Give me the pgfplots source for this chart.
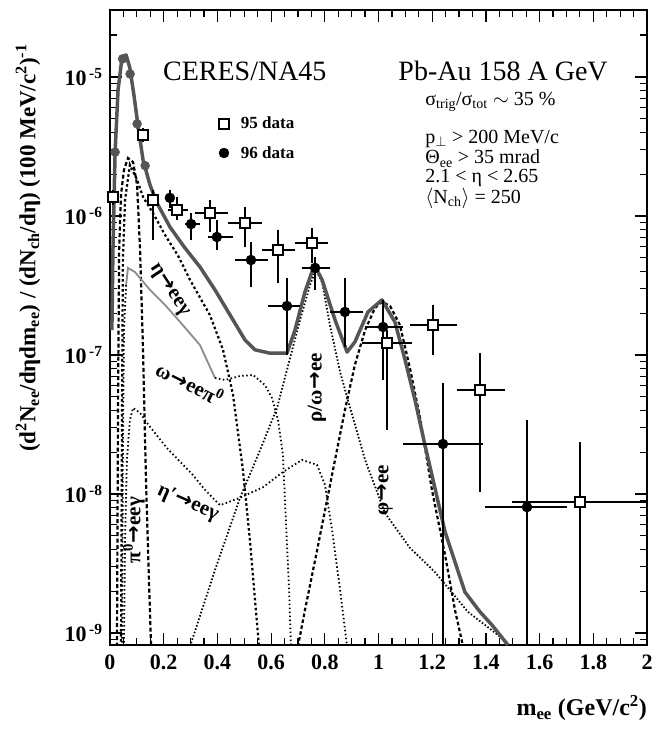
\documentclass[border=0pt]{standalone}
\usepackage{fontspec}
\setmainfont{Liberation Serif}
\newfontfamily\symfont{DejaVu Sans}
\newcommand\arr{{\symfont\bfseries\kern0.5bp→\kern0.5bp}}
\usepackage{pgfplots}
\pgfplotsset{compat=1.18}
\usepackage{pgfplotstable}

\definecolor{totalgray}{RGB}{85,85,85}
\definecolor{lightgray2}{RGB}{140,140,140}

% ---------- measured spectra ----------
% m  value  xlo  xhi  ylo  yhi
\pgfplotstableread{
m v xlo xhi ylo yhi
0.011 1.37e-6 0.004 0.018 1.20e-6 1.55e-6
0.123 3.83e-6 0.115 0.131 3.40e-6 4.30e-6
0.160 1.30e-6 0.140 0.180 6.70e-7 1.54e-6
0.250 1.10e-6 0.215 0.290 9.30e-7 1.37e-6
0.372 1.05e-6 0.317 0.439 7.67e-7 1.30e-6
0.503 8.91e-7 0.439 0.566 5.98e-7 1.16e-6
0.626 5.69e-7 0.566 0.689 3.30e-7 7.93e-7
0.752 6.40e-7 0.689 0.812 4.59e-7 8.20e-7
1.032 1.22e-7 0.939 1.125 2.88e-8 1.51e-7
1.203 1.64e-7 1.117 1.292 1.00e-7 2.29e-7
1.378 5.60e-8 1.292 1.471 1.03e-8 1.03e-7
1.750 8.75e-9 1.497 2.000 1.00e-10 2.37e-8
}\dataNinetyFive

\pgfplotstableread{
m v xlo xhi ylo yhi
0.223 1.35e-6 0.210 0.240 1.15e-6 1.55e-6
0.302 8.75e-7 0.279 0.335 6.70e-7 1.05e-6
0.398 7.06e-7 0.365 0.458 5.69e-7 9.35e-7
0.525 4.82e-7 0.466 0.588 3.08e-7 6.50e-7
0.659 2.25e-7 0.588 0.708 1.00e-7 3.58e-7
0.764 4.23e-7 0.715 0.819 2.94e-7 5.07e-7
0.875 2.04e-7 0.819 0.942 1.14e-7 3.58e-7
1.017 1.59e-7 0.950 1.091 6.60e-8 2.49e-7
1.240 2.29e-8 1.091 1.389 1.00e-10 6.30e-8
1.553 8.05e-9 1.397 1.702 1.00e-10 3.40e-8
}\dataNinetySix

% low-mass 96 points lying on the cocktail
\pgfplotstableread{
m v xlo xhi ylo yhi
0.019 2.88e-6 0.008 0.030 2.60e-6 3.20e-6
0.047 1.35e-5 0.040 0.054 1.25e-5 1.45e-5
0.075 1.05e-5 0.068 0.082 9.80e-6 1.12e-5
0.101 4.60e-6 0.094 0.108 4.20e-6 5.00e-6
0.131 2.30e-6 0.124 0.138 2.10e-6 2.50e-6
}\dataLowMass

% ---------- hadronic cocktail ----------
\pgfplotstableread{
m v
0.007 1.51e-7
0.011 5.69e-7
0.019 2.88e-6
0.030 8.06e-6
0.045 1.39e-5
0.060 1.44e-5
0.074 1.16e-5
0.089 7.43e-6
0.104 4.52e-6
0.123 2.53e-6
0.149 1.67e-6
0.175 1.24e-6
0.223 8.34e-7
0.279 5.89e-7
0.335 4.30e-7
0.391 2.94e-7
0.458 1.79e-7
0.503 1.28e-7
0.540 1.09e-7
0.596 1.03e-7
0.659 1.03e-7
0.689 1.51e-7
0.726 2.84e-7
0.752 3.95e-7
0.767 4.22e-7
0.790 3.47e-7
0.838 1.79e-7
0.883 1.05e-7
0.912 1.24e-7
0.961 2.04e-7
1.013 2.49e-7
1.061 1.73e-7
1.099 9.20e-8
1.136 4.74e-8
1.173 2.25e-8
1.248 5.33e-9
1.322 1.97e-9
1.378 1.42e-9
1.423 1.14e-9
1.482 8.20e-10
}\cocktailTotal

\pgfplotstableread{
m v
0.026 8.0e-10
0.030 4.74e-8
0.034 5.69e-7
0.041 1.42e-6
0.052 2.14e-6
0.067 2.61e-6
0.086 2.44e-6
0.101 1.67e-6
0.112 5.69e-7
0.123 1.09e-7
0.134 1.26e-8
0.145 2.41e-9
0.153 8.0e-10
}\pizero

\pgfplotstableread{
m v
0.041 8.0e-10
0.045 4.70e-8
0.048 4.80e-7
0.056 1.30e-6
0.074 2.33e-6
0.101 1.82e-6
0.123 1.37e-6
0.160 1.05e-6
0.205 7.30e-7
0.253 5.20e-7
0.298 3.47e-7
0.372 1.94e-7
0.421 1.09e-7
0.458 5.20e-8
0.495 1.49e-8
0.521 4.70e-9
0.540 1.73e-9
0.555 8.0e-10
}\etaDalitz

\pgfplotstableread{
m v
0.045 8.0e-10
0.048 2.07e-8
0.052 1.51e-7
0.060 3.19e-7
}\omegaLeft

\pgfplotstableread{
m v
0.060 3.19e-7
0.067 4.23e-7
0.093 3.95e-7
0.149 2.94e-7
0.205 2.29e-7
0.261 1.73e-7
0.335 1.18e-7
0.391 6.84e-8
}\omegaUpper

\pgfplotstableread{
m v
0.391 6.84e-8
0.428 6.61e-8
0.484 7.06e-8
0.533 7.18e-8
0.577 6.08e-8
0.603 4.91e-8
0.626 3.41e-8
0.644 1.91e-8
0.655 6.50e-9
0.667 2.04e-9
0.674 8.0e-10
}\omegaLower

\pgfplotstableread{
m v
0.052 8.0e-10
0.056 4.67e-9
0.063 1.76e-8
0.074 3.40e-8
0.086 4.16e-8
0.112 3.83e-8
0.138 3.24e-8
0.212 2.14e-8
0.309 1.37e-8
0.354 1.07e-8
0.410 8.30e-9
0.484 9.40e-9
0.570 1.12e-8
0.644 1.44e-8
0.715 1.76e-8
0.771 1.62e-8
0.801 1.16e-8
0.827 5.50e-9
0.857 2.04e-9
0.883 8.0e-10
}\etaprime

\pgfplotstableread{
m v
0.298 8.0e-10
0.391 2.84e-9
0.484 9.35e-9
0.559 2.07e-8
0.622 4.16e-8
0.659 7.80e-8
0.708 1.79e-7
0.745 3.19e-7
0.767 4.09e-7
0.790 3.35e-7
0.819 1.64e-7
0.857 7.55e-8
0.886 4.74e-8
0.950 1.76e-8
1.024 7.30e-9
1.117 4.10e-9
1.210 2.75e-9
1.333 1.42e-9
1.460 9.20e-10
1.490 8.0e-10
}\rhoomega

\pgfplotstableread{
m v
0.700 8.0e-10
0.726 1.46e-9
0.764 3.35e-9
0.801 7.67e-9
0.838 1.76e-8
0.875 4.02e-8
0.912 8.48e-8
0.950 1.51e-7
0.987 2.18e-7
1.013 2.41e-7
1.043 2.25e-7
1.080 1.64e-7
1.117 8.05e-8
1.155 3.52e-8
1.199 1.07e-8
1.248 3.64e-9
1.285 1.46e-9
1.315 8.0e-10
}\phimeson

\begin{document}
\begin{tikzpicture}
\begin{axis}[
  at={(0,0)}, anchor=south west,
  scale only axis, width=537bp, height=635bp,
  xmin=0, xmax=2,
  ymode=log, ymin=8.2e-10, ymax=3.03e-5,
  xtick={0,0.2,0.4,0.6,0.8,1,1.2,1.4,1.6,1.8,2},
  xticklabels={0,0.2,0.4,0.6,0.8,1,1.2,1.4,1.6,1.8,2},
  minor x tick num=3,
  ytick={1e-9,1e-8,1e-7,1e-6,1e-5},
  yticklabels={{10\textsuperscript{\,-9}},{10\textsuperscript{\,-8}},{10\textsuperscript{\,-7}},{10\textsuperscript{\,-6}},{10\textsuperscript{\,-5}}},
  minor ytick={9e-10,2e-9,3e-9,4e-9,5e-9,6e-9,7e-9,8e-9,9e-9,2e-8,3e-8,4e-8,5e-8,6e-8,7e-8,8e-8,9e-8,2e-7,3e-7,4e-7,5e-7,6e-7,7e-7,8e-7,9e-7,2e-6,3e-6,4e-6,5e-6,6e-6,7e-6,8e-6,9e-6,2e-5,3e-5},
  tick align=inside,
  major tick length=12bp, minor tick length=7bp,
  every tick/.style={black, line width=1.2bp},
  axis line style={line width=1.8bp, black},
  ticklabel style={font=\bfseries\fontsize{22bp}{22bp}\selectfont},
  xticklabel style={yshift=-6bp},
  yticklabel style={xshift=-4bp},
  xlabel={m\textsubscript{ee} (GeV/c\textsuperscript{2})},
  xlabel style={at={(axis description cs:1,0)}, anchor=north east, yshift=-50bp, inner sep=0pt,
    font=\bfseries\fontsize{24bp}{24bp}\selectfont},
  legend style={at={(axis description cs:0.197,0.838)}, anchor=north west, draw=none, fill=none,
    font=\bfseries\fontsize{17bp}{17bp}\selectfont, row sep=12bp},
  legend cell align=left,
  clip=true,
]

% cocktail components
\addplot[forget plot, black, line width=2.2bp, dash pattern=on 4bp off 2.5bp] table[x=m,y=v] {\pizero};
\addplot[forget plot, black, line width=2.2bp, dash pattern=on 2.5bp off 2.5bp] table[x=m,y=v] {\etaDalitz};
\addplot[forget plot, black, line width=1.8bp, dash pattern=on 1.5bp off 2.5bp] table[x=m,y=v] {\omegaLeft};
\addplot[forget plot, lightgray2, line width=1.8bp] table[x=m,y=v] {\omegaUpper};
\addplot[forget plot, black, line width=1.8bp, dash pattern=on 1.5bp off 2.5bp] table[x=m,y=v] {\omegaLower};
\addplot[forget plot, black, line width=1.8bp, dash pattern=on 1.5bp off 2.5bp] table[x=m,y=v] {\etaprime};
\addplot[forget plot, black, line width=1.8bp, dash pattern=on 1.5bp off 2bp] table[x=m,y=v] {\rhoomega};
\addplot[forget plot, black, line width=2.2bp, dash pattern=on 3.5bp off 2.5bp] table[x=m,y=v] {\phimeson};

% total cocktail
\addplot[forget plot, totalgray, line width=3.5bp, line join=round] table[x=m,y=v] {\cocktailTotal};

% data
\addplot[only marks, mark=square*, mark size=5bp,
  mark options={line width=1.8bp, fill=white, draw=black},
  error bars/.cd, x dir=both, x explicit, y dir=both, y explicit, error mark=none,
  error bar style={line width=2.2bp, black}]
  table[x=m, y=v,
    x error plus expr=\thisrow{xhi}-\thisrow{m}, x error minus expr=\thisrow{m}-\thisrow{xlo},
    y error plus expr=\thisrow{yhi}-\thisrow{v}, y error minus expr=\thisrow{v}-\thisrow{ylo}] {\dataNinetyFive};
\addlegendentry{\hspace{10bp}95 data}

\addplot[only marks, mark=*, mark size=5bp, mark options={black},
  error bars/.cd, x dir=both, x explicit, y dir=both, y explicit, error mark=none,
  error bar style={line width=2.2bp, black}]
  table[x=m, y=v,
    x error plus expr=\thisrow{xhi}-\thisrow{m}, x error minus expr=\thisrow{m}-\thisrow{xlo},
    y error plus expr=\thisrow{yhi}-\thisrow{v}, y error minus expr=\thisrow{v}-\thisrow{ylo}] {\dataNinetySix};
\addlegendentry{\hspace{10bp}96 data}

\addplot[forget plot, only marks, mark=*, mark size=4.5bp, mark options={totalgray},
  error bars/.cd, x dir=both, x explicit, y dir=both, y explicit, error mark=none,
  error bar style={line width=2bp, totalgray}]
  table[x=m, y=v,
    x error plus expr=\thisrow{xhi}-\thisrow{m}, x error minus expr=\thisrow{m}-\thisrow{xlo},
    y error plus expr=\thisrow{yhi}-\thisrow{v}, y error minus expr=\thisrow{v}-\thisrow{ylo}] {\dataLowMass};

% component labels
\begin{scope}[every node/.style={font=\bfseries\fontsize{21bp}{21bp}\selectfont, inner sep=1bp}]
\node[rotate=-57] at (axis cs:0.223,2.94e-7) {η\arr eeγ};
\node[rotate=-27] at (axis cs:0.298,6.3e-8) {ω\arr eeπ\textsuperscript{0}};
\node[rotate=-24] at (axis cs:0.290,8.6e-9) {η′\arr eeγ};
\node[rotate=90] at (axis cs:0.089,5.5e-9) {π\textsuperscript{0}\arr eeγ};
\node[rotate=90] at (axis cs:0.771,5.8e-8) {ρ/ω\arr ee};
\node[rotate=90] at (axis cs:1.024,1.07e-8) {φ\arr ee};
\end{scope}

% headers and cuts
\node[font=\fontsize{28bp}{28bp}\selectfont] at (axis description cs:0.251,0.904) {CERES/NA45};
\node[font=\fontsize{28bp}{28bp}\selectfont] at (axis description cs:0.732,0.904) {Pb-Au 158 A GeV};
\begin{scope}[every node/.style={anchor=west, inner sep=0pt, font=\fontsize{20bp}{20bp}\selectfont}]
\node at (axis description cs:0.587,0.855) {σ\textsubscript{trig}/σ\textsubscript{tot} $\sim$ 35 \%};
\node at (axis description cs:0.587,0.797) {p\textsubscript{$\perp$} > 200 MeV/c};
\node at (axis description cs:0.587,0.766) {Θ\textsubscript{ee} > 35 mrad};
\node at (axis description cs:0.587,0.735) {2.1 < η < 2.65};
\node at (axis description cs:0.587,0.703) {$\langle$N\textsubscript{ch}$\rangle$ = 250};
\end{scope}
\end{axis}
% vertical axis title, left of the frame
\node[rotate=90, inner sep=0pt, font=\bfseries\fontsize{23bp}{23bp}\selectfont] at (-82bp,397bp)
  {(d\textsuperscript{2}N\textsubscript{ee}/dηdm\textsubscript{ee}) / (dN\textsubscript{ch}/dη) (100 MeV/c\textsuperscript{2})\textsuperscript{-1}};
\pgfresetboundingbox
\path (-110bp,-86bp) rectangle (560bp,645bp);
\end{tikzpicture}
\end{document}
